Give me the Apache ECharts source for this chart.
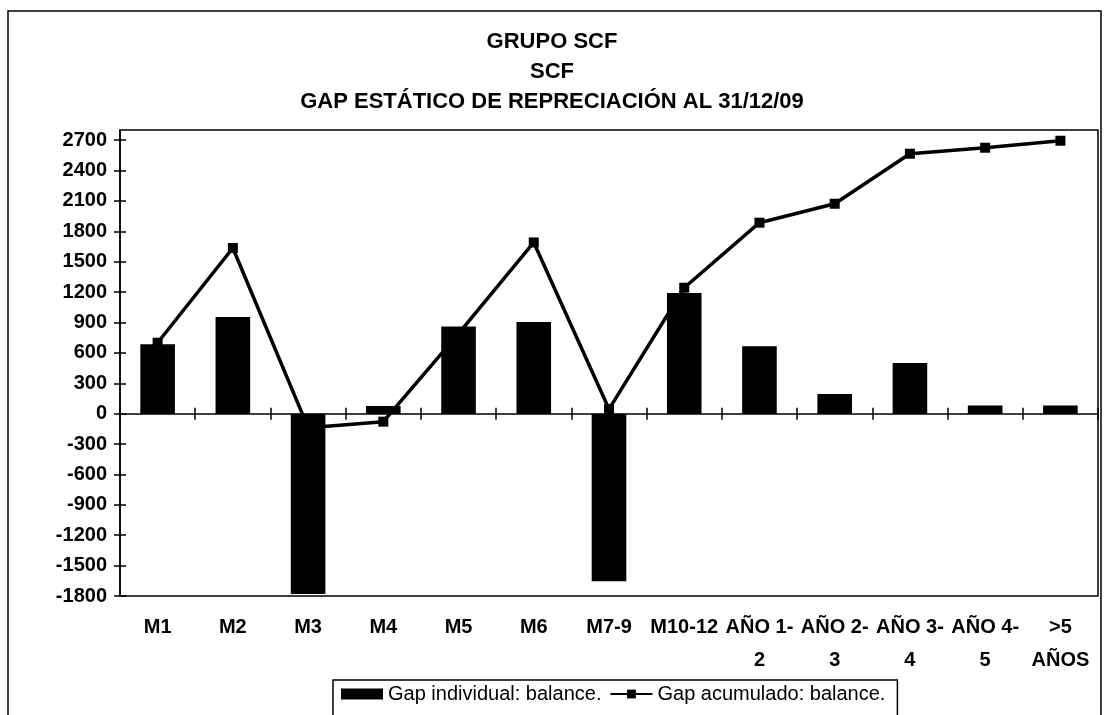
<!DOCTYPE html>
<html>
<head>
<meta charset="utf-8">
<title>GAP ESTÁTICO DE REPRECIACIÓN</title>
<script src="https://cdn.jsdelivr.net/npm/echarts@6/dist/echarts.min.js"></script>
<style>
  html, body { margin: 0; padding: 0; background: #fff; }
  #chart { width: 1104px; height: 715px; }
</style>
</head>
<body>
<div id="chart"></div>
<script>
// Repricing buckets
const categories = ['M1', 'M2', 'M3', 'M4', 'M5', 'M6', 'M7-9', 'M10-12',
  'AÑO 1-\n2', 'AÑO 2-\n3', 'AÑO 3-\n4', 'AÑO 4-\n5', '>5\nAÑOS'];

// Individual gap per bucket (bars)
const gapIndividual = [685, 955, -1780, 75, 860, 905, -1655, 1190, 665, 195, 500, 80, 80];

// Accumulated gap (line)
const gapAcumulado = [700, 1635, -138, -79, 790, 1690, 45, 1243, 1885, 2072, 2566, 2625, 2694];

// Value-axis tick labels
const yTicks = [-1800, -1500, -1200, -900, -600, -300, 0, 300, 600, 900, 1200, 1500, 1800, 2100, 2400, 2700];

const titleLines = ['GRUPO SCF', 'SCF', 'GAP ESTÁTICO DE REPRECIACIÓN AL 31/12/09'];
const seriesNames = ['Gap individual: balance.', 'Gap acumulado: balance.'];

const FONT = "'Liberation Sans', Arial, sans-serif";
const INK = '#000';

const chart = echarts.init(document.getElementById('chart'), null, { renderer: 'canvas' });

const yBase = {
  type: 'value',
  min: -1800,
  max: 2800,
  splitLine: { show: false }
};

chart.setOption({
  backgroundColor: '#fff',
  animation: false,
  title: {
    text: titleLines.join('\n'),
    left: 'center',
    top: 27,
    padding: [0, 0, 0, 16],
    textStyle: {
      fontFamily: FONT,
      fontWeight: 'bold',
      fontSize: 22,
      lineHeight: 30,
      color: INK
    }
  },
  graphic: [{
    type: 'rect',
    shape: { x: 8, y: 11, width: 1093, height: 760 },
    style: { fill: 'none', stroke: INK, lineWidth: 1.5 },
    silent: true
  }],
  legend: {
    left: 333,
    top: 680,
    orient: 'horizontal',
    padding: [4, 12, 40, 8],
    borderColor: INK,
    borderWidth: 1.5,
    itemWidth: 42,
    itemHeight: 11,
    itemGap: 8,
    textStyle: { fontFamily: FONT, fontSize: 20, color: INK },
    data: [
      { name: seriesNames[0], icon: 'rect' },
      { name: seriesNames[1] }
    ]
  },
  grid: {
    left: 120,
    right: 6,
    top: 130,
    bottom: 119,
    show: true,
    borderColor: INK,
    borderWidth: 1.5,
    backgroundColor: '#fff',
    outerBoundsMode: 'none'
  },
  xAxis: [
    {
      // labels along the bottom of the plot
      type: 'category',
      data: categories,
      position: 'bottom',
      axisLine: { show: false, onZero: false },
      axisTick: { show: false },
      axisLabel: {
        interval: 0,
        margin: 15,
        fontFamily: FONT,
        fontWeight: 'bold',
        fontSize: 20,
        lineHeight: 33,
        color: INK
      }
    },
    {
      // zero line with downward ticks
      type: 'category',
      data: categories,
      position: 'bottom',
      axisLine: { show: true, onZero: true, lineStyle: { color: INK, width: 1.5 } },
      axisTick: { show: true, inside: false, length: 6, lineStyle: { color: INK, width: 1.5 } },
      axisLabel: { show: false }
    },
    {
      // upward ticks on the zero line
      type: 'category',
      data: categories,
      position: 'top',
      axisLine: { show: false, onZero: true },
      axisTick: { show: true, inside: false, length: 6, lineStyle: { color: INK, width: 1.5 } },
      axisLabel: { show: false }
    }
  ],
  yAxis: [
    Object.assign({}, yBase, {
      position: 'left',
      axisLine: { show: true, lineStyle: { color: INK, width: 1.5 } },
      axisTick: { show: true, length: 6, customValues: yTicks, lineStyle: { color: INK, width: 1.5 } },
      axisLabel: {
        customValues: yTicks,
        formatter: (v) => String(v),
        margin: 13,
        fontFamily: FONT,
        fontWeight: 'bold',
        fontSize: 20,
        color: INK
      }
    }),
    Object.assign({}, yBase, {
      position: 'left',
      axisLine: { show: false },
      axisTick: { show: true, inside: true, length: 6, customValues: yTicks, lineStyle: { color: INK, width: 1.5 } },
      axisLabel: { show: false }
    })
  ],
  series: [
    {
      name: seriesNames[0],
      type: 'bar',
      xAxisIndex: 0,
      yAxisIndex: 0,
      data: gapIndividual,
      barWidth: '46%',
      itemStyle: { color: INK },
      z: 2
    },
    {
      name: seriesNames[1],
      type: 'line',
      xAxisIndex: 0,
      yAxisIndex: 0,
      data: gapAcumulado,
      symbol: 'rect',
      symbolSize: 10,
      lineStyle: { color: INK, width: 3.5 },
      itemStyle: { color: INK },
      z: 3
    }
  ]
});
</script>
</body>
</html>
